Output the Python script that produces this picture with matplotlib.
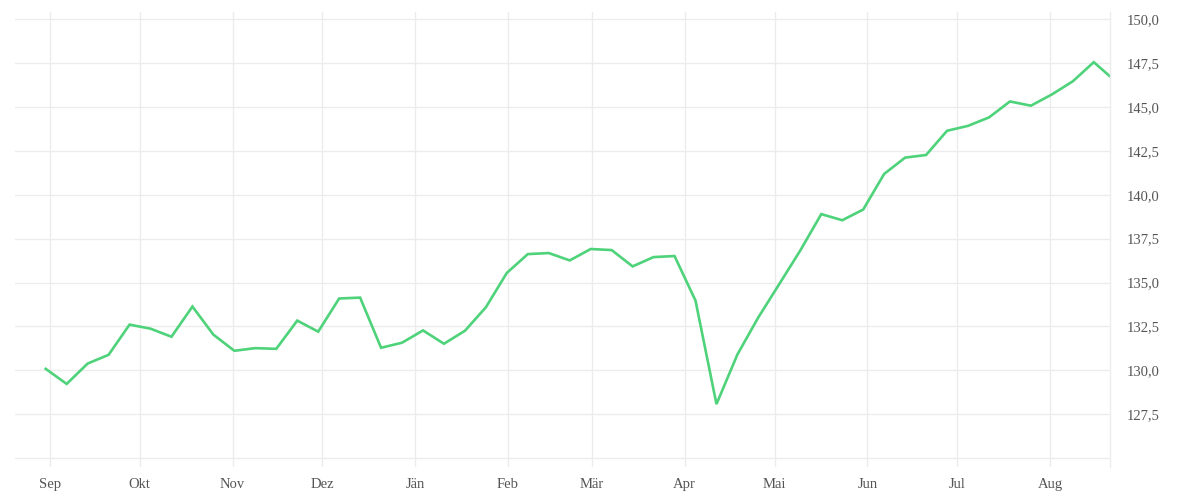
import matplotlib
matplotlib.use("Agg")
import matplotlib.pyplot as plt
import pandas as pd


# 每周数据 (最后一个点是不满一周的)
dates = list(pd.date_range("2022-08-30 14:00", periods=51, freq="7D")) + [pd.Timestamp("2023-08-21")]
values = [
	130.08, 129.22, 130.38, 130.88, 132.60, 132.37, 131.91, 133.63, 132.03, 131.11,
	131.26, 131.22, 132.83, 132.20, 134.09, 134.14, 131.28, 131.57, 132.27, 131.51,
	132.25, 133.59, 135.55, 136.62, 136.68, 136.26, 136.91, 136.85, 135.92, 136.45,
	136.51, 133.97, 128.07, 130.90, 133.02, 134.92, 136.83, 138.90, 138.55, 139.16,
	141.19, 142.12, 142.27, 143.65, 143.93, 144.41, 145.32, 145.08, 145.72, 146.47,
	147.56, 146.75,
]
month_starts = pd.date_range("2022-09-01", periods=12, freq="MS")
month_labels = ["Sep", "Okt", "Nov", "Dez", "Jän", "Feb", "Mär", "Apr", "Mai", "Jun", "Jul", "Aug"]
y_ticks = [125.0, 127.5, 130.0, 132.5, 135.0, 137.5, 140.0, 142.5, 145.0, 147.5, 150.0]


def draw():
	plt.rcParams['font.family'] = ['Liberation Serif', 'DejaVu Serif']
	fig = plt.figure(figsize=(12, 5), dpi=100)
	ax = fig.add_axes([0.0125, 0.066, 0.9125, 0.91])

	ax.plot(dates, values, color="#4ed27a", linewidth=1.9, solid_joinstyle="miter")

	ax.set_xlim(pd.Timestamp("2022-08-20 08:00"), pd.Timestamp("2023-08-21"))
	ax.set_ylim(124.485, 150.42)

	ax.set_xticks(month_starts)
	ax.set_xticklabels(month_labels)
	ax.set_yticks(y_ticks)
	# 125 的网格线保留，但不显示标签
	ax.set_yticklabels(["" if t == 125.0 else f"{t:.1f}".replace(".", ",") for t in y_ticks])

	ax.yaxis.tick_right()
	ax.tick_params(axis="y", length=0, pad=12, labelsize=10.5, labelcolor="#555555")
	ax.tick_params(axis="x", length=0, pad=8, labelsize=10.5, labelcolor="#555555")

	ax.grid(True, color="#ececec", linewidth=1)
	ax.set_axisbelow(True)
	for side in ["top", "left", "bottom"]:
		ax.spines[side].set_visible(False)
	ax.spines["right"].set_color("#ececec")
	ax.spines["right"].set_linewidth(1)

	fig.savefig("out.png", dpi=100)


if __name__ == "__main__":
	draw()
